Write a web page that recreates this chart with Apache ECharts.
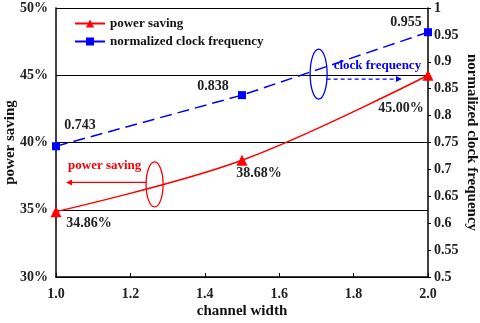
<!DOCTYPE html>
<html><head><meta charset="utf-8">
<script src="https://cdn.jsdelivr.net/npm/echarts@6/dist/echarts.min.js"></script>
<style>html,body{margin:0;padding:0;background:#fff}#c{width:480px;height:323px}</style>
</head><body><div id="c"></div>
<script>
const channelWidth = [1.0, 1.5, 2.0];
const powerSaving = [34.86, 38.68, 45.00];
const clockFreq = [0.743, 0.838, 0.955];
const leftTicks = [30, 35, 40, 45, 50];
const rightTicks = [0.5, 0.55, 0.6, 0.65, 0.7, 0.75, 0.8, 0.85, 0.9, 0.95, 1];
const xTicks = [1.0, 1.2, 1.4, 1.6, 1.8, 2.0];

const F = 'Liberation Serif';
const chart = echarts.init(document.getElementById('c'));
const lbl = {fontFamily: F, fontWeight: 'bold', fontSize: 14, color: '#222'};
const nameStyle = {fontFamily: F, fontWeight: 'bold', fontSize: 15, color: '#111'};
const option = {
  animation: false,
  grid: {left: 56, right: 52, top: 8, bottom: 46, outerBoundsMode: 'none', containLabel: false},
  legend: {
    left: 69, top: 12, orient: 'vertical', itemGap: 5, itemWidth: 30, itemHeight: 10,
    textStyle: {fontFamily: F, fontWeight: 'bold', fontSize: 13, color: '#111'},
    data: ['power saving', 'normalized clock frequency']
  },
  xAxis: {
    type: 'value', min: 1.0, max: 2.0, interval: 0.2,
    name: 'channel width', nameLocation: 'middle', nameGap: 27, nameMoveOverlap: false,
    nameTextStyle: nameStyle,
    axisLine: {lineStyle: {color: '#000', width: 1.5}},
    axisTick: {inside: true, length: 4, lineStyle: {color: '#000'}},
    axisLabel: {...lbl, margin: 10, formatter: v => v.toFixed(1)},
    splitLine: {show: false}
  },
  yAxis: [{
    type: 'value', min: 30, max: 50, interval: 5, position: 'left',
    name: 'power saving', nameLocation: 'middle', nameGap: 38, nameMoveOverlap: false,
    nameTextStyle: nameStyle,
    axisLine: {show: true, lineStyle: {color: '#000', width: 1.5}},
    axisTick: {show: false},
    axisLabel: {...lbl, margin: 8, formatter: v => v + '%'},
    splitLine: {show: true, lineStyle: {color: '#000', width: 1}}
  }, {
    type: 'value', min: 0.5, max: 1, interval: 0.05, position: 'right',
    name: 'normalized clock frequency', nameLocation: 'middle', nameGap: 36, nameMoveOverlap: false,
    nameRotate: -90,
    nameTextStyle: nameStyle,
    axisLine: {show: true, lineStyle: {color: '#000', width: 1.5}},
    axisTick: {show: true, length: 3, lineStyle: {color: '#000'}},
    axisLabel: {...lbl, margin: 6},
    splitLine: {show: false}
  }],
  series: [{
    name: 'power saving', type: 'line', yAxisIndex: 0, smooth: 0.35,
    data: channelWidth.map((x, i) => [x, powerSaving[i]]),
    symbol: 'triangle', symbolSize: 11,
    itemStyle: {color: '#ff0000'}, lineStyle: {color: '#ff0000', width: 1.5},
    label: {show: true, ...lbl, formatter: p => p.value[1].toFixed(2) + '%',
      position: 'inside', align: 'center', verticalAlign: 'middle'},
    labelLayout: p => {
      const offs = [[33, 12], [17, 13], [-27, 33]];
      return {dx: offs[p.dataIndex][0], dy: offs[p.dataIndex][1]};
    },
    z: 3
  }, {
    name: 'normalized clock frequency', type: 'line', yAxisIndex: 1,
    data: channelWidth.map((x, i) => [x, clockFreq[i]]),
    symbol: 'rect', symbolSize: 8,
    itemStyle: {color: '#0000ff'}, lineStyle: {color: '#0000ff', width: 1.5, type: [12, 6]},
    label: {show: true, ...lbl, formatter: p => p.value[1].toFixed(3),
      position: 'inside', align: 'center', verticalAlign: 'middle'},
    labelLayout: p => {
      const offs = [[24, -21], [-29, -9], [-22, -10]];
      return {dx: offs[p.dataIndex][0], dy: offs[p.dataIndex][1]};
    },
    z: 3
  }]
};
chart.setOption(option);

// annotation positions in data coordinates (x, left-axis %)
const redEllipse = [1.265, 36.88];
const blueEllipse = [1.706, 45.09];
const redArrowTip = 1.027;
const blueArrowTip = 1.93;
function px(pt) { return chart.convertToPixel({xAxisIndex: 0, yAxisIndex: 0}, pt); }
const re = px(redEllipse), be = px(blueEllipse);
const rTip = px([redArrowTip, 30])[0], bTip = px([blueArrowTip, 30])[0];
const ry = re[1] - 2, by = be[1] + 5;
chart.setOption({
  graphic: [
    {type: 'ellipse', shape: {cx: re[0], cy: re[1], rx: 8.5, ry: 22.5}, style: {fill: 'none', stroke: '#ff0000', lineWidth: 1.3}, z: 10},
    {type: 'line', shape: {x1: re[0] - 8, y1: ry, x2: rTip + 4, y2: ry}, style: {stroke: '#ff0000', lineWidth: 1.3}, z: 10},
    {type: 'polygon', shape: {points: [[rTip, ry], [rTip + 6, ry - 3], [rTip + 6, ry + 3]]}, style: {fill: '#ff0000'}, z: 10},
    {type: 'text', x: rTip + 2, y: re[1] - 25, style: {text: 'power saving', fill: '#ff0000', font: 'bold 13px "Liberation Serif"'}, z: 10},
    {type: 'ellipse', shape: {cx: be[0], cy: be[1], rx: 8.5, ry: 25}, style: {fill: 'none', stroke: '#0000ff', lineWidth: 1.3}, z: 10},
    {type: 'line', shape: {x1: be[0] + 8, y1: by, x2: bTip - 4, y2: by}, style: {stroke: '#0000ff', lineWidth: 1.3, lineDash: [4, 3]}, z: 10},
    {type: 'polygon', shape: {points: [[bTip, by], [bTip - 6, by - 3], [bTip - 6, by + 3]]}, style: {fill: '#0000ff'}, z: 10},
    {type: 'text', x: be[0] + 15, y: be[1] - 15, style: {text: 'clock frequency', fill: '#0000ff', font: 'bold 13px "Liberation Serif"'}, z: 10}
  ]
});
</script></body></html>
